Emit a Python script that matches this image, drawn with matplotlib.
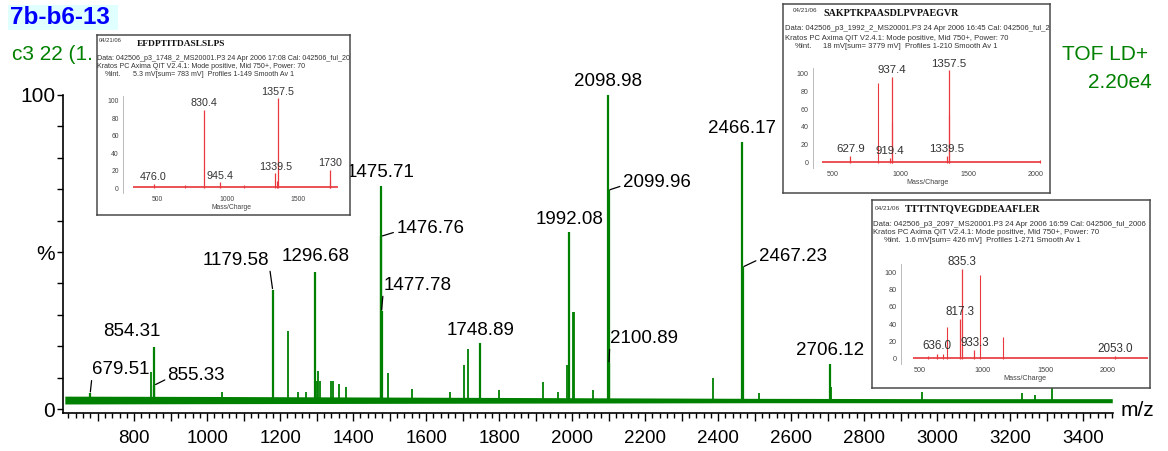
import matplotlib.pyplot as plt
from matplotlib.patches import Rectangle
from matplotlib.ticker import MultipleLocator, FuncFormatter

plt.rcParams['font.family'] = ['Liberation Sans', 'DejaVu Sans']

GREEN = '#008000'
RED = '#e8383d'
W, H = 1168, 451

# ---- main TOF LD+ spectrum (relative intensity, %) ----
peak_mz = [679.51, 854.31, 855.33, 1179.58, 1296.68, 1475.71, 1476.76, 1477.78,
           1748.89, 1992.08, 2098.98, 2099.96, 2100.89, 2466.17, 2467.23, 2706.12]
peak_int = [5.0, 19.7, 7.6, 37.9, 43.6, 71.0, 55.0, 31.2,
            21.0, 56.4, 100.0, 69.7, 14.6, 85.0, 45.2, 14.3]

minor_mz = [845, 1040, 1181, 1222, 1250, 1270, 1300, 1305, 1310, 1340, 1345, 1360,
            1380, 1496, 1560, 1665, 1704, 1714, 1800, 1920, 1960, 1986, 2003, 2006,
            2058, 2097.9, 2386, 2465.6, 2512, 2708, 2960, 3233, 3268, 3315]
minor_int = [11.8, 5.5, 8.0, 25.0, 5.5, 5.5, 9.0, 12.0, 9.0, 9.0, 9.0, 8.0,
             7.0, 11.5, 6.5, 5.5, 14.0, 19.0, 6.0, 8.5, 5.5, 14.0, 31.0, 31.0,
             6.0, 30.0, 9.9, 61.0, 5.0, 7.0, 5.5, 5.0, 4.5, 7.0]

base_mz = [610, 1000, 1500, 2000, 2500, 3000, 3480]
base_lo = [1.6, 1.7, 1.8, 1.9, 2.0, 2.0, 2.0]
base_hi = [4.1, 4.0, 3.8, 3.6, 3.4, 3.3, 3.3]

# label placement: text centre offset from peak apex (pixels), leader line flag
label_dx = [31, -22, 42, -37, 0, 0, 49, 36, 0, 0, 0, 48, 35, 0, 50, 0]
label_dy = [24, 16, 10, 30, 16, 14, 8, 26, 13, 12, 13, 8, 25, 14, 11, 14]
label_lead = [True, False, True, True, False, False, True, True,
              False, False, False, True, True, False, True, False]

# ---- MALDI MS/MS insets ----
ins1_labels = ['476.0', '830.4', '945.4', '1339.5', '1357.5', '1730']
ins1_int = [5, 90, 7, 17, 103, 21]
ins1_extra_mz = [1352.0, 1725.0, 700.0, 1120.0]
ins1_extra_int = [8, 8, 3, 3]

ins2_labels = ['627.9', '919.4', '937.4', '1339.5', '1357.5']
ins2_int = [8, 6, 96, 8, 103]
ins2_extra_mz = [830.4, 938.4, 1358.5, 2030.0]
ins2_extra_int = [89, 46, 53, 3]

ins3_labels = ['636.0', '817.3', '835.3', '933.3', '2053.0']
ins3_int = [6, 46, 103, 10, 3]
ins3_extra_mz = [560.0, 680.0, 715.0, 975.0, 1162.0]
ins3_extra_int = [4, 6, 37, 97, 25]


def rect(x0, y0, x1, y1):
    return [x0 / W, 1 - y1 / H, (x1 - x0) / W, (y1 - y0) / H]


fig = plt.figure(figsize=(W / 100, H / 100), dpi=100)

ax = fig.add_axes(rect(63, 95, 1113, 413))
ax.set_xlim(605, 3482)
ax.set_ylim(-1.27, 100)
ax.fill_between(base_mz, base_lo, base_hi, color=GREEN, lw=0)
ax.vlines(minor_mz, 2.0, minor_int, color=GREEN, lw=1.3)
ax.vlines(peak_mz, 2.0, peak_int, color=GREEN, lw=1.6)

for s in ['top', 'right']:
    ax.spines[s].set_visible(False)
for s in ['left', 'bottom']:
    ax.spines[s].set_linewidth(1.2)

ax.xaxis.set_major_locator(MultipleLocator(100))
ax.xaxis.set_minor_locator(MultipleLocator(20))
ax.xaxis.set_major_formatter(
    FuncFormatter(lambda v, p: f"{v:.0f}" if round(v) % 200 == 0 else ""))
ax.tick_params(axis='x', which='major', length=6, width=1, labelsize=13.5, pad=6.5)
ax.tick_params(axis='x', which='minor', length=3.5, width=1)
ax.set_yticks([0, 50, 100])
ax.set_yticklabels(['0', '%', '100'])
ax.yaxis.set_minor_locator(MultipleLocator(10))
ax.tick_params(axis='y', which='both', length=4, width=1, labelsize=15, pad=1.5)

for mz, h, dx, dy, lead in zip(peak_mz, peak_int, label_dx, label_dy, label_lead):
    arrow = None
    if lead:
        arrow = dict(arrowstyle='-', lw=0.9, color='black', shrinkA=0, shrinkB=1,
                     relpos=(0 if dx > 0 else 1, 0.3))
    ax.annotate(f"{mz:.2f}", (mz, h), xytext=(dx, dy), textcoords='offset pixels',
                ha='center', va='center', fontsize=13.5, arrowprops=arrow,
                annotation_clip=False)

# header texts
fig.add_artist(Rectangle((8 / W, 1 - 30 / H), 110 / W, 25 / H,
                         transform=fig.transFigure, color='#e0ffff', lw=0))
fig.text(10 / W, 1 - 18 / H, '7b-b6-13', color='#0000ff', weight='bold',
         fontsize=17.5, va='center')
fig.text(12 / W, 1 - 55 / H, 'c3 22 (1.', color=GREEN, fontsize=15, va='center')
fig.text(1148 / W, 1 - 55 / H, 'TOF LD+', color=GREEN, fontsize=15,
         va='center', ha='right')
fig.text(1152 / W, 1 - 82 / H, '2.20e4', color=GREEN, fontsize=15,
         va='center', ha='right')
fig.text(1121 / W, 1 - 411 / H, 'm/z', fontsize=15, va='center')


def draw_inset(frame, plot, xlim, ylim, date, peptide, texts, labels, ints,
               extra_mz, extra_int, base, xticks, k=1.0):
    x0, y0, x1, y1 = frame
    fax = fig.add_axes(rect(*frame), zorder=10)
    fax.set_xlim(x0, x1)
    fax.set_ylim(y1, y0)
    fax.set_xticks([])
    fax.set_yticks([])
    for s in fax.spines.values():
        s.set_color('#4a4a4a')
        s.set_linewidth(1.1)
    (dx, dy), (px, py) = texts[0], texts[1]
    fax.text(dx, dy, date, fontsize=4.4 * k, va='center', color='#333333')
    fax.text(px, py, peptide, family=['Liberation Serif'], weight='bold',
             fontsize=7.0 * k, va='center', color='#111111')
    for tx, ty, line in texts[2]:
        fax.text(tx, ty, line, fontsize=5.3 * k, va='center', color='#333333',
                 clip_on=True)

    pax = fig.add_axes(rect(*plot), zorder=11)
    pax.patch.set_alpha(0)
    pax.set_xlim(*xlim)
    pax.set_ylim(*ylim)
    mz = [float(s) for s in labels]
    pax.fill_between(base, [0, 0], [2.5, 2.5], color=RED, lw=0, alpha=0.85)
    pax.vlines(extra_mz, 0, extra_int, color=RED, lw=0.8)
    pax.vlines(mz, 0, ints, color=RED, lw=0.9)
    for s in ['top', 'right', 'bottom']:
        pax.spines[s].set_visible(False)
    pax.spines['left'].set_color('#b0b0b0')
    pax.spines['left'].set_linewidth(0.6)
    pax.set_xticks(xticks)
    pax.set_yticks([0, 20, 40, 60, 80, 100])
    pax.tick_params(axis='both', length=0, labelsize=5.0 * k, labelcolor='#444444')
    pax.tick_params(axis='x', pad=2)
    pax.tick_params(axis='y', pad=3)
    pax.set_xlabel('Mass/Charge', fontsize=5.0 * k, color='#444444', labelpad=1.2)
    for s, m, h in zip(labels, mz, ints):
        t = pax.annotate(s, (m, h), xytext=(0, 1), textcoords='offset points',
                         ha='center', va='bottom', fontsize=8 * k, color='#333333',
                         annotation_clip=False)
        t.set_clip_box(fax.bbox)
        t.set_clip_on(True)


draw_inset((97, 35, 350, 215), (123, 96, 340, 193), (259, 1798), (-5.7, 105.7),
           '04/21/06', 'EFDPTITDASLSLPS',
           [(99, 41), (137, 44),
            [(97, 59, 'Data: 042506_p3_1748_2_MS20001.P3 24 Apr 2006 17:08 Cal: 042506_ful_20'),
             (97, 67, 'Kratos PC Axima QIT V2.4.1: Mode positive, Mid 750+, Power: 70'),
             (105, 75, '%Int.'),
             (133, 75, '5.3 mV[sum= 783 mV]  Profiles 1-149 Smooth Av 1')]],
           ins1_labels, ins1_int, ins1_extra_mz, ins1_extra_int,
           [330, 1785], [500, 1000, 1500], k=0.97)

draw_inset((783, 4, 1050, 193), (813, 68, 1042, 168), (352, 2044), (-5.6, 105.6),
           '04/21/06', 'SAKPTKPAASDLPVPAEGVR',
           [(793, 10), (823, 13),
            [(785, 29, 'Data: 042506_p3_1992_2_MS20001.P3 24 Apr 2006 16:45 Cal: 042506_ful_20'),
             (785, 38, 'Kratos PC Axima QIT V2.4.1: Mode positive, Mid 750+, Power: 70'),
             (795, 47, '%Int.'),
             (823, 47, '18 mV[sum= 3779 mV]  Profiles 1-210 Smooth Av 1')]],
           ins2_labels, ins2_int, ins2_extra_mz, ins2_extra_int,
           [420, 2030], [500, 1000, 1500, 2000], k=1.03)

draw_inset((872, 200, 1150, 388), (901, 264, 1148, 364), (348, 2319), (-5.75, 109.2),
           '04/21/06', 'TTTTNTQVEGDDEAAFLER',
           [(875, 208), (905, 209),
            [(873, 225, 'Data: 042506_p3_2097_MS20001.P3 24 Apr 2006 16:59 Cal: 042506_ful_2006'),
             (873, 232, 'Kratos PC Axima QIT V2.4.1: Mode positive, Mid 750+, Power: 70'),
             (884, 240, '%Int.'),
             (905, 240, '1.6 mV[sum= 426 mV]  Profiles 1-271 Smooth Av 1')]],
           ins3_labels, ins3_int, ins3_extra_mz, ins3_extra_int,
           [440, 2319], [500, 1000, 1500, 2000], k=1.05)

fig.savefig('out.png', dpi=100)
